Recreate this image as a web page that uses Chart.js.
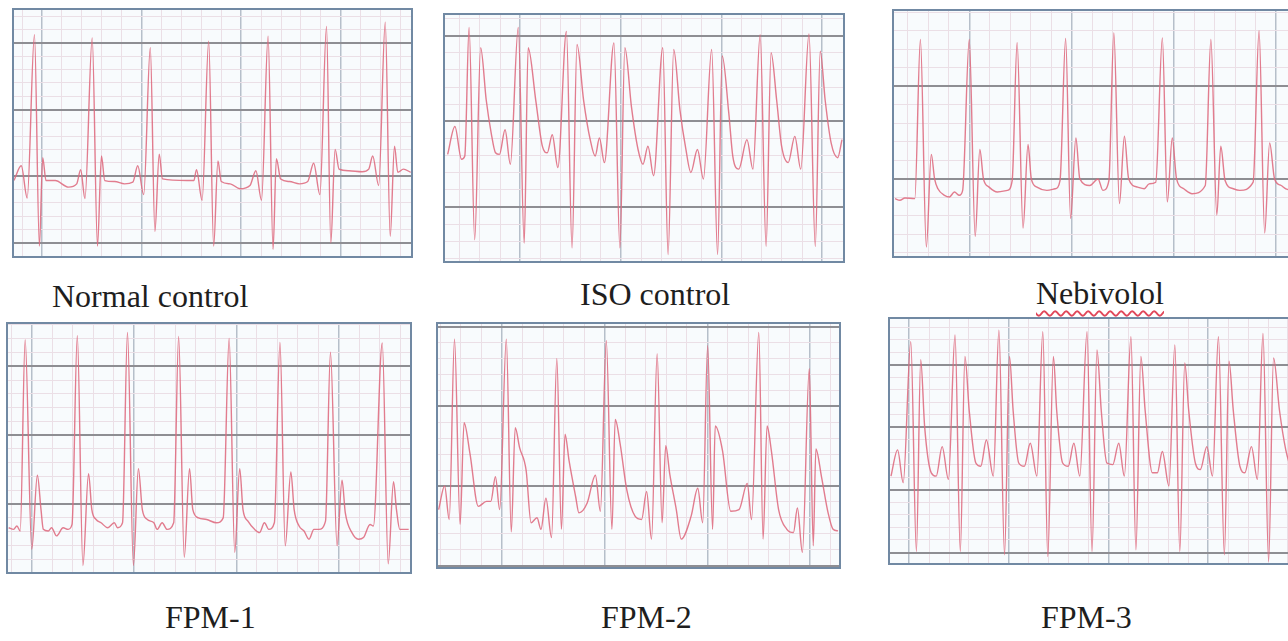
<!DOCTYPE html>
<html>
<head>
<meta charset="utf-8">
<script src="https://cdn.jsdelivr.net/npm/chart.js@4.4.1/dist/chart.umd.min.js"></script>
<style>
  html, body { margin: 0; padding: 0; background: #fff; }
  body { position: relative; width: 1288px; height: 641px; overflow: hidden; }
  .panel { position: absolute; box-sizing: border-box; border: 2px solid #7189a3; background: #f8fbfd; overflow: hidden; }
  .panel canvas { display: block; }
  .label { position: absolute; font-family: "Liberation Serif", "Times New Roman", serif; font-size: 32px; line-height: 32px; color: #1e1e1e; white-space: nowrap; }
  .squiggle { text-decoration: underline wavy #e0475a; text-decoration-thickness: 1.5px; text-underline-offset: 6px; }
</style>
</head>
<body>
<div id="stage"></div>
<script>
// ECG traces: t = time (sample units), v = amplitude (sample units)
const normalT = [0,22,40,62,77,87,97,125,165,190,202,215,237,253,265,275,305,335,360,375,393,413,427,440,450,525,545,553,570,590,605,618,628,655,685,715,733,750,770,785,795,808,835,865,890,908,927,947,960,973,985,1015,1055,1075,1087,1105,1125,1140,1153,1163,1180,1202];
const normalV = [230,275,177,675,30,300,230,230,210,220,263,175,665,30,305,230,227,220,225,275,187,635,75,310,235,230,230,263,170,655,30,290,227,220,205,215,260,170,670,20,297,235,227,220,227,283,187,700,40,325,265,260,257,265,305,215,713,60,335,255,265,255];

const isoT = [8,30,50,60,73,90,108,125,140,153,165,182,198,222,240,252,275,295,310,325,342,368,385,400,420,440,455,468,483,512,530,545,565,585,600,615,632,660,676,693,712,730,745,765,783,808,826,840,860,872,890,915,933,955,973,988,1005,1020,1040,1060,1078,1103,1122,1137,1152,1170,1190,1203];
const isoV = [325,410,310,320,712,65,650,490,390,330,325,400,295,712,55,650,490,350,330,385,285,700,40,660,490,370,320,375,300,665,40,650,470,340,295,350,260,650,20,645,460,340,270,340,250,645,20,625,450,320,280,370,280,690,45,635,490,350,300,380,280,692,45,640,490,360,315,370];

const nebT = [3,18,33,63,80,98,113,123,133,153,168,183,198,208,228,246,260,271,288,313,343,358,373,391,406,416,433,463,488,503,520,535,551,563,593,618,633,651,666,683,698,711,738,758,773,793,813,828,843,856,878,903,943,960,978,990,1003,1028,1048,1088,1106,1123,1138,1153,1173,1187,1213];
const nebV = [175,170,177,175,660,27,310,235,205,185,180,195,185,200,660,60,325,235,210,195,200,230,650,85,340,235,210,200,205,230,663,115,360,235,215,235,200,230,680,160,365,235,210,205,220,225,665,165,360,235,205,190,215,660,125,335,230,205,200,225,687,70,345,235,215,205,200];

const fpm1T = [2,17,27,37,52,72,89,100,107,122,132,147,167,182,194,210,227,244,254,267,282,302,322,332,347,362,380,395,407,422,442,452,467,482,502,517,534,550,560,577,602,632,652,670,687,702,712,727,747,762,777,790,807,824,840,857,867,882,897,912,927,942,962,977,997,1012,1022,1042,1062,1077,1097,1107,1134,1152,1168,1177,1187,1214];
const fpm1V = [135,130,140,125,708,70,295,190,130,125,135,110,135,130,145,720,20,300,190,160,150,135,150,135,150,730,20,315,190,160,150,130,150,130,150,718,45,315,190,165,160,150,165,712,60,315,190,155,130,120,150,130,150,700,80,305,190,140,125,100,130,130,155,670,80,280,180,120,100,105,145,140,698,25,275,190,130,130];

const fpm2T = [2,20,34,50,67,79,97,122,147,160,174,187,207,222,234,247,267,282,300,312,327,344,360,374,385,397,417,427,452,477,492,510,527,537,552,572,597,617,632,647,664,679,690,702,722,737,767,787,802,817,832,840,862,887,912,937,950,972,985,997,1010,1032,1057,1077,1089,1104,1125,1137,1145,1162,1182,1197,1212];
const fpm2V = [175,247,145,695,130,440,345,185,200,200,275,175,695,107,425,365,295,135,150,115,210,90,635,115,405,325,215,165,195,280,170,690,115,450,375,235,155,145,230,85,650,135,370,285,175,85,155,240,135,675,115,430,355,170,175,255,145,715,85,430,355,175,115,105,180,45,605,65,360,275,165,115,110];

const fpm3T = [3,23,40,63,80,93,105,125,140,158,177,197,213,227,240,260,275,292,313,330,347,362,373,390,407,425,445,463,478,495,505,523,540,557,575,597,612,627,640,657,675,693,710,730,745,760,773,795,810,825,845,863,878,893,905,925,940,960,977,995,1013,1027,1040,1060,1075,1095,1113,1130,1147,1162,1180,1199,1215];
const fpm3V = [265,345,245,675,35,620,415,275,265,355,255,695,35,630,465,305,295,375,265,710,25,630,465,305,295,365,265,705,20,630,465,305,295,365,265,705,35,650,465,305,300,365,265,690,40,630,465,275,275,340,235,665,35,610,465,305,285,355,265,690,25,615,465,295,275,355,255,700,5,625,465,345,285];

const panelNames = ['Normal control', 'ISO control', 'Nebivolol', 'FPM-1', 'FPM-2', 'FPM-3'];

// layout: box = [left, top, width, height] in px; grid = [x0, dx, y0, dy] in sample units
const panels = [
  { t: normalT, v: normalV, box: [12, 8, 401, 250],  grid: [85, 301.7, 40, 203.3],  label: [52, 280] },
  { t: isoT,    v: isoV,    box: [443, 13, 402, 250], grid: [228, 305, 165, 261],   label: [580, 278] },
  { t: nebT,    v: nebV,    box: [892, 9, 410, 249],  grid: [228, 310, 235, 282],   label: [1036, 277], squiggle: true },
  { t: fpm1T,   v: fpm1V,   box: [6, 322, 406, 252],  grid: [72, 310, 207, 210],    label: [165, 601] },
  { t: fpm2T,   v: fpm2V,   box: [436, 322, 405, 247], grid: [194, 311, 247, 243],  label: [601, 601] },
  { t: fpm3T,   v: fpm3V,   box: [888, 317, 410, 248], grid: [58, 302, 32, 191],    label: [1041, 601] }
];

const MINOR = '#ebdfe6';
const MAJOR_H = '#8e8e93';
const MAJOR_V = '#b6bfca';
const TRACE = 'rgba(222,106,126,0.88)';

// ECG paper: 5 small squares per big square
function gridTicks(first, step, max) {
  const minor = step / 5;
  const ticks = [];
  for (let k = Math.ceil(-first / minor); first + k * minor <= max; k++) {
    const value = first + k * minor;
    if (value < 3 || value > max - 3) continue;
    ticks.push({ value, heavy: ((k % 5) + 5) % 5 === 0 });
  }
  return ticks;
}

function drawPanel(p, i) {
  const stage = document.getElementById('stage');
  const [left, top, w, h] = p.box;
  const xMax = w * 3, yMax = h * 3;

  const wrap = document.createElement('div');
  wrap.className = 'panel';
  wrap.style.left = left + 'px';
  wrap.style.top = top + 'px';
  wrap.style.width = w + 'px';
  wrap.style.height = h + 'px';
  const canvas = document.createElement('canvas');
  canvas.width = w - 4;
  canvas.height = h - 4;
  wrap.appendChild(canvas);
  stage.appendChild(wrap);

  const label = document.createElement('div');
  label.className = 'label';
  label.style.left = p.label[0] + 'px';
  label.style.top = p.label[1] + 'px';
  if (p.squiggle) {
    label.innerHTML = '<span class="squiggle">' + panelNames[i] + '</span>';
  } else {
    label.textContent = panelNames[i];
  }
  stage.appendChild(label);

  const [gx0, gdx, gy0, gdy] = p.grid;

  new Chart(canvas, {
    type: 'line',
    data: {
      datasets: [{
        data: p.t.map((x, k) => ({ x, y: p.v[k] })),
        borderColor: TRACE,
        borderWidth: 1.4,
        pointRadius: 0,
        fill: false,
        cubicInterpolationMode: 'monotone'
      }]
    },
    options: {
      responsive: false,
      animation: false,
      events: [],
      layout: { padding: 0 },
      plugins: { legend: { display: false }, tooltip: { enabled: false } },
      scales: {
        x: {
          type: 'linear', min: 0, max: xMax,
          ticks: { display: false },
          border: { display: false },
          grid: {
            drawTicks: false,
            color: c => (c.tick && c.tick.heavy ? MAJOR_V : MINOR),
            lineWidth: c => (c.tick && c.tick.heavy ? 1.5 : 1)
          },
          afterBuildTicks: s => { s.ticks = gridTicks(gx0, gdx, xMax); }
        },
        y: {
          type: 'linear', min: 0, max: yMax,
          ticks: { display: false },
          border: { display: false },
          grid: {
            drawTicks: false,
            color: c => (c.tick && c.tick.heavy ? MAJOR_H : MINOR),
            lineWidth: c => (c.tick && c.tick.heavy ? 2 : 1)
          },
          afterBuildTicks: s => { s.ticks = gridTicks(gy0, gdy, yMax); }
        }
      }
    }
  });
}

panels.forEach(drawPanel);
</script>
</body>
</html>
